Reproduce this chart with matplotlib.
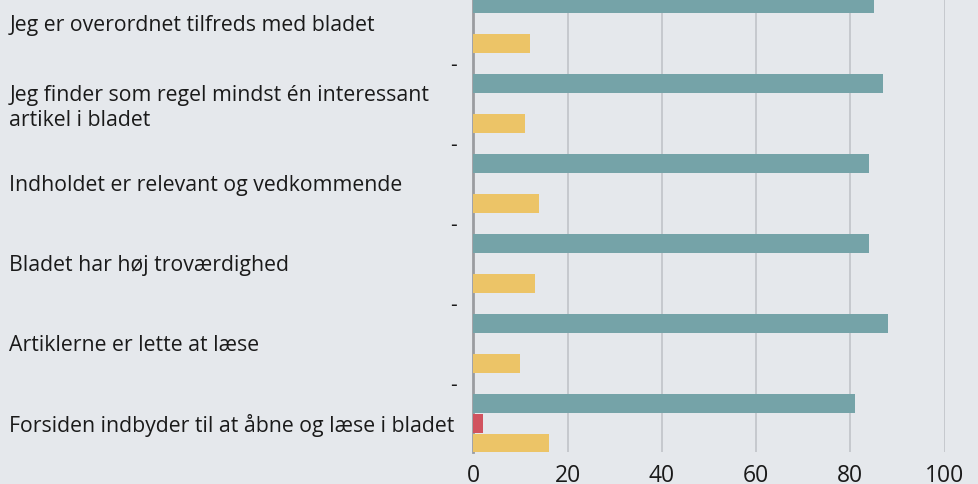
import numpy as np
import matplotlib
matplotlib.use("Agg")
import matplotlib.pyplot as plt

# Data (percent)
statements = [
    "Jeg er overordnet tilfreds med bladet",
    "Jeg finder som regel mindst én interessant\nartikel i bladet",
    "Indholdet er relevant og vedkommende",
    "Bladet har høj troværdighed",
    "Artiklerne er lette at læse",
    "Forsiden indbyder til at åbne og læse i bladet",
]
enig = [85, 87, 84, 84, 88, 81]
uenig = [0, 0, 0, 0, 0, 2]
hverken = [12, 11, 14, 13, 10, 16]
xticks = [0, 20, 40, 60, 80, 100]

# Colours
BG = "#e5e8ec"
TEAL = "#75a3a8"
RED = "#d1535f"
YELLOW = "#ecc467"
GRID = "#c3c6cb"
SPINE = "#9a9ca0"

plt.rcParams['font.family'] = ['Open Sans', 'DejaVu Sans']

fig = plt.figure(figsize=(9.79, 4.84), dpi=100, facecolor=BG)
ax = fig.add_axes([0.4835, 0.0661, 0.4814, 0.9339], facecolor=BG)

y = np.arange(len(statements))
h = 0.2375
ax.barh(y - 0.25, enig, height=h, color=TEAL, zorder=3)
ax.barh(y, uenig, height=h, color=RED, zorder=3)
ax.barh(y + 0.25, hverken, height=h, color=YELLOW, zorder=3)

ax.set_xlim(0, 100)
ax.set_ylim(5.3625, -0.2875)

# x axis
ax.set_xticks(xticks)
ax.set_xticklabels([str(v) for v in xticks], fontsize=16.5, color="#1a1a1a")
ax.tick_params(axis="x", length=0, pad=8.5)
ax.xaxis.grid(True, color=GRID, linewidth=1.3, zorder=0)

# y axis: statements left aligned, "-" at group boundaries
ax.set_yticks(y)
ax.set_yticklabels(statements, fontsize=15.3, color="#1a1a1a")
for lab in ax.get_yticklabels():
    lab.set_horizontalalignment("left")
    lab.set_linespacing(1.3)
ax.tick_params(axis="y", which="major", length=0, pad=334)
ax.set_yticks(y[:-1] + 0.5, minor=True)
ax.set_yticklabels(["-"] * (len(y) - 1), minor=True, fontsize=15, color="#1a1a1a")
ax.tick_params(axis="y", which="minor", length=0, pad=12)

for s in ["top", "right", "bottom"]:
    ax.spines[s].set_visible(False)
ax.spines["left"].set_color(SPINE)
ax.spines["left"].set_linewidth(2)
ax.spines["left"].set_zorder(2)

fig.savefig("out.png", dpi=100, facecolor=BG)
